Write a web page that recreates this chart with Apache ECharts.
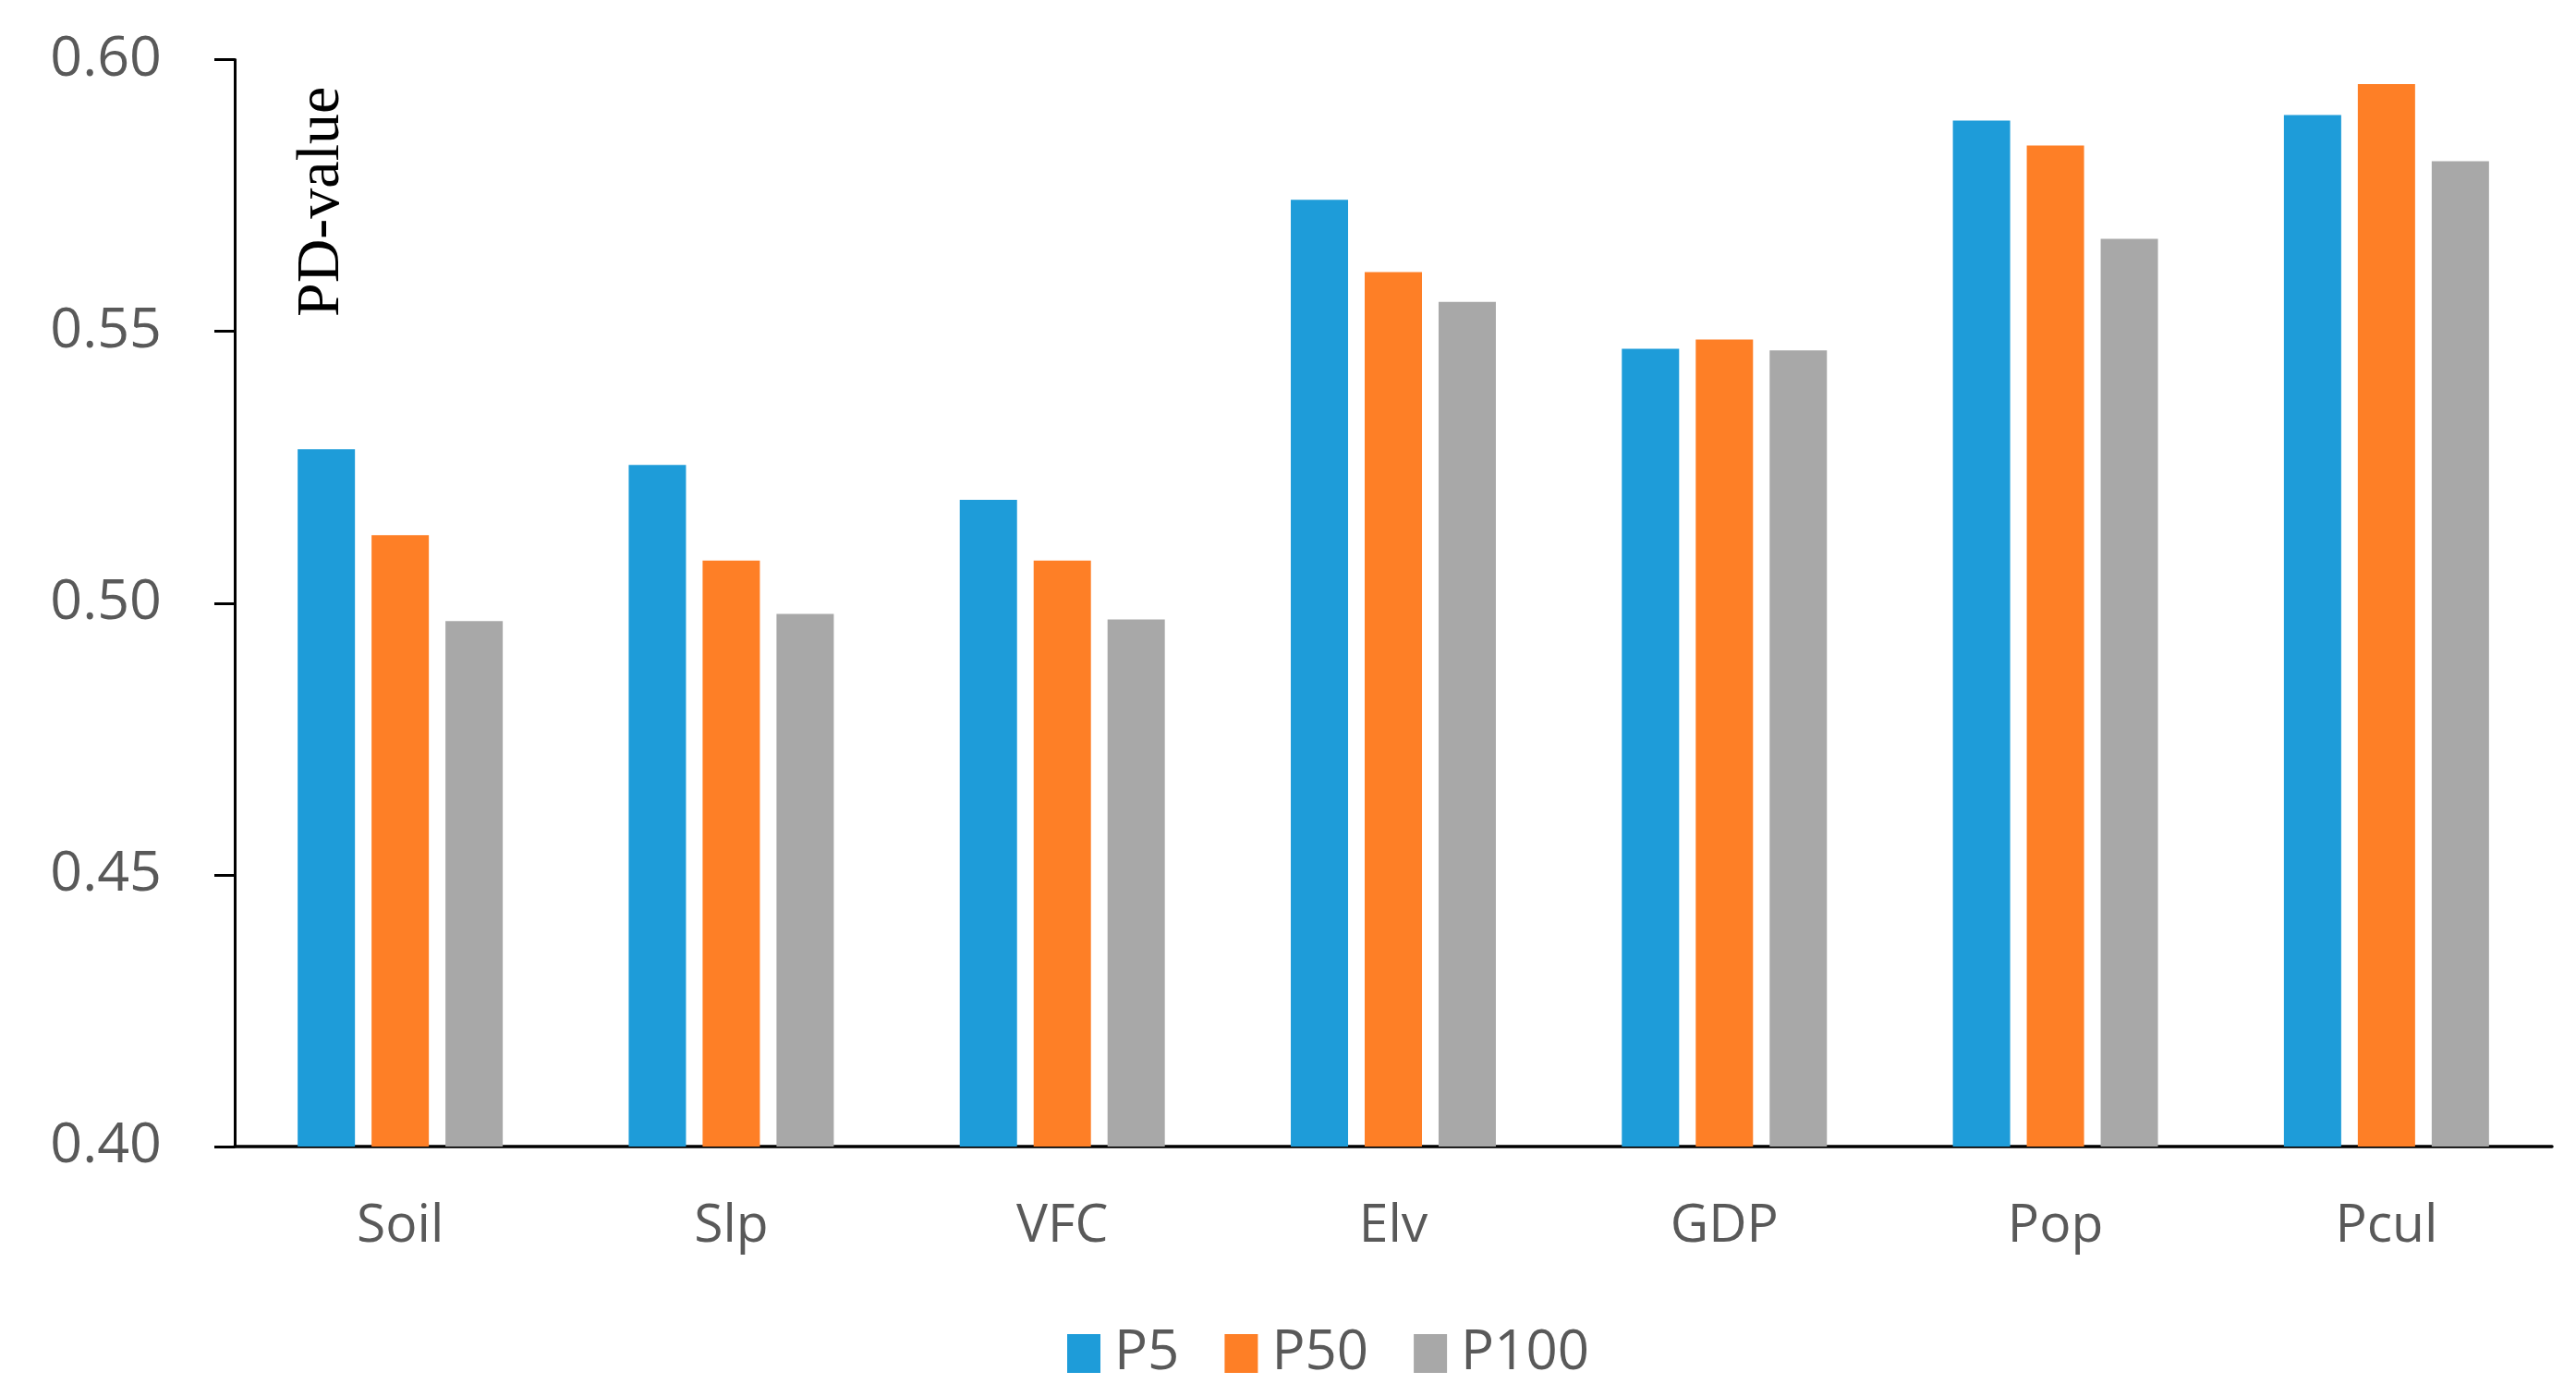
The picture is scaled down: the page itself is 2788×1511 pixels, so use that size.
<!DOCTYPE html>
<html>
<head>
<meta charset="utf-8">
<script src="https://cdn.jsdelivr.net/npm/echarts@6/dist/echarts.min.js"></script>
<style>
html,body{margin:0;padding:0;background:#fff;}
#chart{width:2788px;height:1511px;}
</style>
</head>
<body>
<div id="chart"></div>
<script>
const categories = ['Soil', 'Slp', 'VFC', 'Elv', 'GDP', 'Pop', 'Pcul'];
const seriesNames = ['P5', 'P50', 'P100'];
const p5 = [0.5283, 0.5254, 0.5190, 0.5742, 0.5468, 0.5888, 0.5898];
const p50 = [0.5125, 0.5078, 0.5078, 0.5609, 0.5485, 0.5842, 0.5955];
const p100 = [0.4967, 0.4980, 0.4970, 0.5554, 0.5465, 0.5670, 0.5813];
const yTicks = [0.40, 0.45, 0.50, 0.55, 0.60];
const colors = ['#1e9cd9', '#fe7f26', '#a8a8a8'];

const chart = echarts.init(document.getElementById('chart'), null, {renderer: 'canvas'});
const labelFont = '"Open Sans", "Noto Sans", sans-serif';
const values = [p5, p50, p100];

chart.setOption({
  animation: false,
  backgroundColor: '#ffffff',
  color: colors,
  grid: {left: 254, right: 26, top: 64.5, bottom: 270, containLabel: false},
  legend: {
    data: seriesNames,
    left: 1150,
    top: 1430,
    icon: 'rect',
    itemWidth: 36,
    itemHeight: 42,
    itemGap: 49,
    textStyle: {fontFamily: labelFont, fontSize: 60, color: '#595959', padding: [0, 0, 0, 10]}
  },
  xAxis: {
    type: 'category',
    data: categories,
    axisLine: {show: true, lineStyle: {color: '#000', width: 3.5}},
    axisTick: {show: false},
    axisLabel: {fontFamily: labelFont, fontSize: 57, color: '#595959', margin: 58},
    splitLine: {show: false}
  },
  yAxis: {
    type: 'value',
    min: 0.40,
    max: 0.60,
    interval: 0.05,
    axisLine: {show: true, lineStyle: {color: '#000', width: 3}},
    axisTick: {show: true, inside: false, length: 22, lineStyle: {color: '#000', width: 3}},
    axisLabel: {
      fontFamily: labelFont, fontSize: 61, color: '#595959', margin: 79,
      formatter: function (v) {
        const t = yTicks.find(x => Math.abs(x - v) < 1e-9);
        return (t !== undefined ? t : v).toFixed(2);
      }
    },
    splitLine: {show: false}
  },
  graphic: [{
    type: 'text',
    x: 349,
    y: 343,
    rotation: Math.PI / 2,
    style: {
      text: 'PD-value',
      font: '66px "Liberation Serif", "Times New Roman", serif',
      fill: '#000',
      textAlign: 'left',
      textVerticalAlign: 'middle'
    }
  }],
  series: seriesNames.map((name, i) => ({
    name: name,
    type: 'bar',
    data: values[i],
    barWidth: 62,
    barGap: '29%',
    itemStyle: {color: colors[i]}
  }))
});
</script>
</body>
</html>
